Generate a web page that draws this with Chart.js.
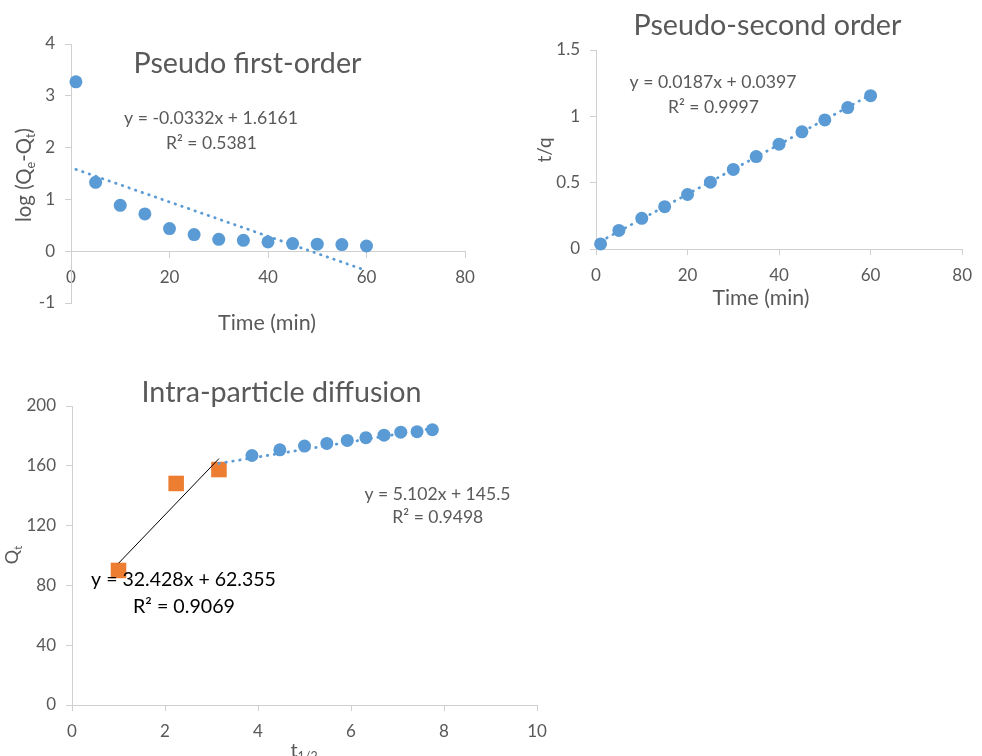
<!DOCTYPE html>
<html>
<head>
<meta charset="utf-8">
<script src="https://cdn.jsdelivr.net/npm/chart.js@4/dist/chart.umd.min.js"></script>
<style>
html,body{margin:0;padding:0;background:#fff;}
#wrap{position:relative;width:982px;height:756px;overflow:hidden;background:#fff;}
#wrap canvas{position:absolute;left:0;top:0;}
</style>
</head>
<body>
<div id="wrap">
  <canvas id="c1" width="982" height="756"></canvas>
  <canvas id="c2" width="982" height="756"></canvas>
  <canvas id="c3" width="982" height="756"></canvas>
</div>
<script>
// ---------- data ----------
const timeMin = [1, 5, 10, 15, 20, 25, 30, 35, 40, 45, 50, 55, 60];
const logQeQt = [3.27, 1.33, 0.885, 0.72, 0.436, 0.32, 0.23, 0.21, 0.18, 0.147, 0.135, 0.128, 0.10];
const tOverQ  = [0.038, 0.14, 0.231, 0.319, 0.411, 0.504, 0.60, 0.697, 0.79, 0.883, 0.973, 1.066, 1.156];

const sqrtTimeStage1 = [1.00, 2.24, 3.16];
const qtStage1       = [90.0, 148.2, 157.5];
const sqrtTimeStage2 = [3.87, 4.47, 5.00, 5.48, 5.92, 6.32, 6.71, 7.07, 7.42, 7.75];
const qtStage2       = [166.9, 170.7, 173.2, 175.0, 177.0, 178.8, 180.5, 182.5, 182.8, 184.1];

// trendline end points (as drawn in the reference)
const pfoTrendX = [1, 60];      const pfoTrendY = [1.58, -0.375];
const psoTrendX = [1, 60];      const psoTrendY = [0.058, 1.162];
const ipdTrend1X = [1, 3.16];   const ipdTrend1Y = [94.8, 164.8];
const ipdTrend2X = [3.16, 7.75]; const ipdTrend2Y = [161.6, 185.0];

// tick values
const timeTicks = [0, 20, 40, 60, 80];
const pfoYTicks = [-1, 0, 1, 2, 3, 4];
const psoYTicks = [0, 0.5, 1, 1.5];
const ipdXTicks = [0, 2, 4, 6, 8, 10];
const ipdYTicks = [0, 40, 80, 120, 160, 200];

// text
const pfoTitle = 'Pseudo first-order';
const pfoEq = 'y = -0.0332x + 1.6161';
const pfoR2 = 'R² = 0.5381';
const psoTitle = 'Pseudo-second order';
const psoEq = 'y = 0.0187x + 0.0397';
const psoR2 = 'R² = 0.9997';
const ipdTitle = 'Intra-particle diffusion';
const ipdEq2 = 'y = 5.102x + 145.5';
const ipdR2_2 = 'R² = 0.9498';
const ipdEq1 = 'y = 32.428x + 62.355';
const ipdR2_1 = 'R² = 0.9069';
const timeLabel = 'Time (min)';

// ---------- styling ----------
const GRAY = '#595959', AXIS = '#d0d0d0', BLUE = '#5B9BD5', ORANGE = '#ED7D31';
const FAM = 'Lato, "Open Sans", sans-serif';

function pts(xs, ys) { return xs.map((x, i) => ({ x: x, y: ys[i] })); }

function linAxis(min, max, tickVals, extra) {
  return Object.assign({
    type: 'linear', min: min, max: max,
    afterBuildTicks: s => { s.ticks = tickVals.map(v => ({ value: v })); },
    grid: { display: true, drawOnChartArea: false, drawTicks: true, tickLength: 6, color: AXIS, lineWidth: 1 },
    border: { display: true, color: AXIS, width: 1 },
    ticks: { color: GRAY, font: { family: FAM, size: 17 }, padding: 10, maxRotation: 0, autoSkip: false,
             callback: v => String(v) }
  }, extra || {});
}

function makeText(items) {
  return {
    id: 'annot',
    afterDraw(chart) {
      const ctx = chart.ctx;
      for (const it of items) {
        const parts = typeof it.text === 'string' ? [{ t: it.text }] : it.text;
        const fontFor = (p, s) => (p.sub ? (s * 0.62) : s) + 'px ' + FAM;
        const measure = s => parts.reduce((w, p) => { ctx.font = fontFor(p, s); return w + ctx.measureText(p.t).width; }, 0);
        let size = it.size;
        if (it.w) size = size * it.w / measure(size);
        const total = measure(size);
        ctx.save();
        ctx.translate(it.x, it.y);
        if (it.rot) ctx.rotate(it.rot);
        ctx.fillStyle = it.color || GRAY;
        ctx.textBaseline = 'alphabetic';
        ctx.textAlign = 'left';
        let cx = -total / 2;
        for (const p of parts) {
          ctx.font = fontFor(p, size);
          ctx.fillText(p.t, cx, p.sub ? size * 0.2 : 0);
          cx += ctx.measureText(p.t).width;
        }
        ctx.restore();
      }
    }
  };
}

const baseOpts = {
  responsive: false, animation: false, devicePixelRatio: 1,
  plugins: { legend: { display: false }, tooltip: { enabled: false }, title: { display: false } }
};

function trend(xs, ys, color, dotted, width) {
  return {
    data: pts(xs, ys), showLine: true, pointRadius: 0, pointHoverRadius: 0,
    borderColor: color, borderWidth: width, borderDash: dotted ? [0.5, 6.5] : [],
    borderCapStyle: dotted ? 'round' : 'butt', order: 0, clip: false
  };
}
function markers(xs, ys, color, style, r) {
  return {
    data: pts(xs, ys), showLine: false, pointStyle: style, pointRadius: r, pointHoverRadius: r,
    backgroundColor: color, borderColor: color, pointBorderWidth: 0, order: 1, clip: false
  };
}

function build() {
  // ---- Pseudo first-order ----
  new Chart(document.getElementById('c1'), {
    type: 'scatter',
    data: { datasets: [
      trend(pfoTrendX, pfoTrendY, BLUE, true, 2.8),
      markers(timeMin, logQeQt, BLUE, 'circle', 6.5)
    ] },
    options: Object.assign({}, baseOpts, {
      layout: { padding: { left: 21, top: 44, right: 517, bottom: 453 } },
      scales: {
        x: linAxis(0, 80, timeTicks, { position: { y: 0 }, afterFit: s => { s.height = 0; } }),
        y: linAxis(-1, 4, pfoYTicks, { position: 'left', afterFit: s => { s.width = 50; } })
      }
    }),
    plugins: [makeText([
      { text: pfoTitle, x: 247.5, y: 73, size: 25, w: 228 },
      { text: pfoEq, x: 211, y: 124, size: 17, w: 174 },
      { text: pfoR2, x: 211.5, y: 149, size: 17, w: 91 },
      { text: timeLabel, x: 267, y: 330, size: 18, w: 98 },
      { text: [{ t: 'log (Q' }, { t: 'e', sub: true }, { t: '-Q' }, { t: 't', sub: true }, { t: ')' }],
        x: 31, y: 175, size: 18, w: 94, rot: -Math.PI / 2 }
    ])]
  });

  // ---- Pseudo-second order ----
  new Chart(document.getElementById('c2'), {
    type: 'scatter',
    data: { datasets: [
      trend(psoTrendX, psoTrendY, BLUE, true, 2.8),
      markers(timeMin, tOverQ, BLUE, 'circle', 6.5)
    ] },
    options: Object.assign({}, baseOpts, {
      layout: { padding: { left: 546, top: 50, right: 13, bottom: 467 } },
      scales: {
        x: linAxis(0, 80, timeTicks, { position: 'bottom', afterFit: s => { s.height = 40; } }),
        y: linAxis(0, 1.5, psoYTicks, { position: 'left', afterFit: s => { s.width = 50; } })
      }
    }),
    plugins: [makeText([
      { text: psoTitle, x: 767.5, y: 35, size: 27, w: 268 },
      { text: psoEq, x: 713, y: 88, size: 17, w: 167 },
      { text: psoR2, x: 713.5, y: 113, size: 17, w: 91 },
      { text: timeLabel, x: 761, y: 305, size: 18, w: 97 },
      { text: 't/q', x: 551, y: 150, size: 19, rot: -Math.PI / 2 }
    ])]
  });

  // ---- Intra-particle diffusion ----
  new Chart(document.getElementById('c3'), {
    type: 'scatter',
    data: { datasets: [
      trend(ipdTrend1X, ipdTrend1Y, '#000000', false, 1),
      trend(ipdTrend2X, ipdTrend2Y, BLUE, true, 2.8),
      markers(sqrtTimeStage1, qtStage1, ORANGE, 'rect', 11),
      markers(sqrtTimeStage2, qtStage2, BLUE, 'circle', 6.5)
    ] },
    options: Object.assign({}, baseOpts, {
      layout: { padding: { left: 22, top: 406, right: 445, bottom: 11 } },
      scales: {
        x: linAxis(0, 10, ipdXTicks, { position: 'bottom', afterFit: s => { s.height = 40; } }),
        y: linAxis(0, 200, ipdYTicks, { position: 'left', afterFit: s => { s.width = 50; } })
      }
    }),
    plugins: [makeText([
      { text: ipdTitle, x: 281.5, y: 402, size: 26, w: 280 },
      { text: ipdEq2, x: 437.5, y: 500, size: 17, w: 146 },
      { text: ipdR2_2, x: 437.8, y: 523, size: 17, w: 91 },
      { text: ipdEq1, x: 183.5, y: 586, size: 19, w: 185, color: '#000000' },
      { text: ipdR2_1, x: 184, y: 613, size: 19, w: 102, color: '#000000' },
      { text: [{ t: 'Q' }, { t: 't', sub: true }], x: 18, y: 555, size: 18, rot: -Math.PI / 2 },
      { text: [{ t: 't' }, { t: '1/2', sub: true }], x: 304, y: 757, size: 20 }
    ])]
  });
}

Chart.defaults.font.family = FAM;
const ready = (document.fonts && document.fonts.load)
  ? Promise.all([document.fonts.load('16px Lato'), document.fonts.load('26px Lato')]).catch(() => {})
  : Promise.resolve();
ready.then(build, build);
</script>
</body>
</html>
